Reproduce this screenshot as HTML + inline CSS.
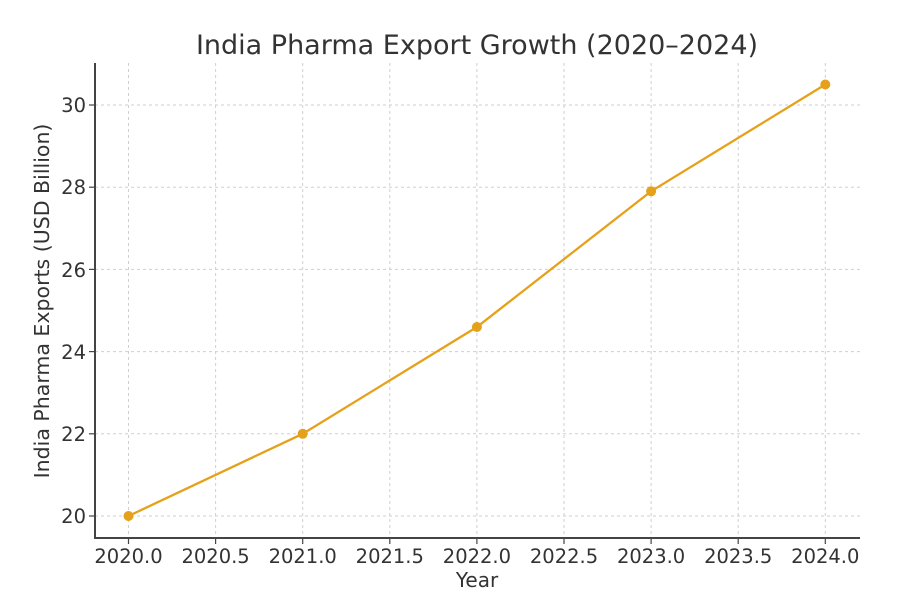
<!DOCTYPE html>
<html><head><style>body{margin:0;background:#fff}svg{display:block}</style></head><body>
<svg width="900" height="607" xmlns="http://www.w3.org/2000/svg" font-family="DejaVu Sans, Liberation Sans, sans-serif">
<rect width="900" height="607" fill="#fff"/>
<g stroke="#cfcfcf" stroke-width="1" stroke-dasharray="3,3">
<line x1="128.5" y1="63" x2="128.5" y2="538"/><line x1="215.6" y1="63" x2="215.6" y2="538"/>
<line x1="302.7" y1="63" x2="302.7" y2="538"/><line x1="389.8" y1="63" x2="389.8" y2="538"/>
<line x1="476.9" y1="63" x2="476.9" y2="538"/><line x1="564" y1="63" x2="564" y2="538"/>
<line x1="651.1" y1="63" x2="651.1" y2="538"/><line x1="738.2" y1="63" x2="738.2" y2="538"/>
<line x1="825.3" y1="63" x2="825.3" y2="538"/>
<line x1="95" y1="516" x2="860" y2="516"/><line x1="95" y1="433.8" x2="860" y2="433.8"/>
<line x1="95" y1="351.6" x2="860" y2="351.6"/><line x1="95" y1="269.4" x2="860" y2="269.4"/>
<line x1="95" y1="187.2" x2="860" y2="187.2"/><line x1="95" y1="105" x2="860" y2="105"/>
</g>
<g stroke="#444" stroke-width="2"><line x1="95" y1="63" x2="95" y2="539"/><line x1="94" y1="538" x2="860" y2="538"/></g>
<g stroke="#444" stroke-width="1.2">
<line x1="89" y1="516" x2="95" y2="516"/><line x1="89" y1="433.8" x2="95" y2="433.8"/><line x1="89" y1="351.6" x2="95" y2="351.6"/><line x1="89" y1="269.4" x2="95" y2="269.4"/><line x1="89" y1="187.2" x2="95" y2="187.2"/><line x1="89" y1="105" x2="95" y2="105"/>
<line x1="128.5" y1="538" x2="128.5" y2="544"/><line x1="215.6" y1="538" x2="215.6" y2="544"/><line x1="302.7" y1="538" x2="302.7" y2="544"/><line x1="389.8" y1="538" x2="389.8" y2="544"/><line x1="476.9" y1="538" x2="476.9" y2="544"/><line x1="564" y1="538" x2="564" y2="544"/><line x1="651.1" y1="538" x2="651.1" y2="544"/><line x1="738.2" y1="538" x2="738.2" y2="544"/><line x1="825.3" y1="538" x2="825.3" y2="544"/>
</g>
<g font-size="19.5" fill="#333" text-anchor="end">
<text x="86" y="523">20</text><text x="86" y="441">22</text><text x="86" y="359">24</text><text x="86" y="277">26</text><text x="86" y="194">28</text><text x="86" y="112">30</text>
</g>
<g font-size="19.5" fill="#333" text-anchor="middle">
<text x="128.5" y="563">2020.0</text><text x="215.6" y="563">2020.5</text><text x="302.7" y="563">2021.0</text><text x="389.8" y="563">2021.5</text><text x="476.9" y="563">2022.0</text><text x="564" y="563">2022.5</text><text x="651.1" y="563">2023.0</text><text x="738.2" y="563">2023.5</text><text x="825.3" y="563">2024.0</text>
<text x="477" y="587" font-size="20">Year</text>
<text x="477" y="54" font-size="27">India Pharma Export Growth (2020–2024)</text>
<text transform="translate(49,301) rotate(-90)" font-size="20.5">India Pharma Exports (USD Billion)</text>
</g>
<polyline points="128.5,516 302.7,433.8 476.9,327 651.1,191.3 825.3,84.5" fill="none" stroke="#e6a11a" stroke-width="2.3"/>
<g fill="#e6a11a"><circle cx="128.5" cy="516" r="5"/><circle cx="302.7" cy="433.8" r="5"/><circle cx="476.9" cy="327" r="5"/><circle cx="651.1" cy="191.3" r="5"/><circle cx="825.3" cy="84.5" r="5"/></g>
</svg>
</body></html>
